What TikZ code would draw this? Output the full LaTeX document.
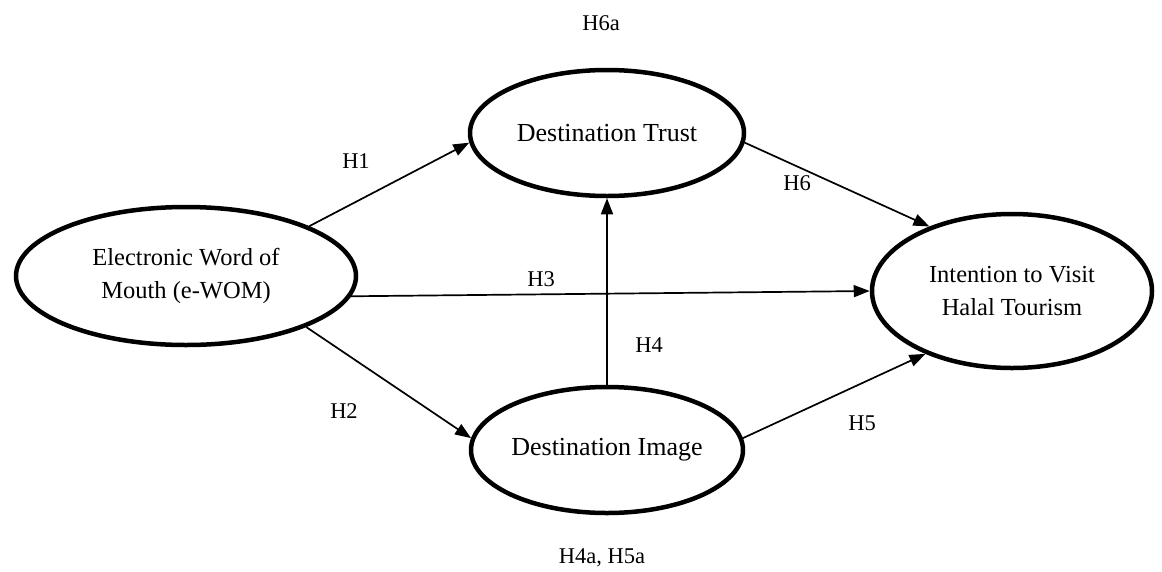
\documentclass[tikz,border=0pt]{standalone}
\usepackage{fontspec}
\setmainfont{Liberation Serif}
\usetikzlibrary{shapes.geometric,arrows.meta}
\begin{document}
\begin{tikzpicture}[x=1pt,y=-1pt,
  construct/.style={ellipse,draw,line width=4.5pt,inner sep=0pt,align=center},
  bigtext/.style={font=\fontsize{26}{30}\selectfont},
  gartext/.style={font=\fontsize{24.5}{33}\selectfont},
  hyp/.style={font=\fontsize{22.5}{26}\selectfont,inner sep=0pt},
  link/.style={line width=1.7pt,-{Triangle[length=16pt,width=12pt]}}]
\useasboundingbox (0,0) rectangle (1162,571);
\node[construct,gartext,minimum width=340pt,minimum height=138pt] (ewom) at (186,276) {Electronic Word of\\Mouth (e-WOM)};
\node[construct,bigtext,minimum width=274pt,minimum height=126pt] (trust) at (607,133) {Destination Trust};
\node[construct,bigtext,minimum width=272pt,minimum height=126pt] (image) at (607,450) {Destination Image};
\node[construct,gartext,minimum width=280pt,minimum height=154pt] (intent) at (1012,291) {Intention to Visit\\Halal Tourism};
\draw[link] (ewom.22) -- (trust.184);
\draw[link] (ewom.337) -- (image.175);
\draw[link] (ewom.353) -- (intent.180);
\draw[link] (image.north) -- (trust.south);
\draw[link] (image.5) -- (intent.216);
\draw[link] (trust.356) -- (intent.142);
\node[hyp] (h6a) at (601,23) {H6a};
\node[hyp] (h1) at (356,161) {H1};
\node[hyp] (h2) at (344,411) {H2};
\node[hyp] (h3) at (541,279) {H3};
\node[hyp] (h4) at (649,345) {H4};
\node[hyp] (h5) at (862,423) {H5};
\node[hyp] (h6) at (797,183) {H6};
\node[hyp] (h45a) at (602,558) {H4a, H5a};
\end{tikzpicture}
\end{document}
